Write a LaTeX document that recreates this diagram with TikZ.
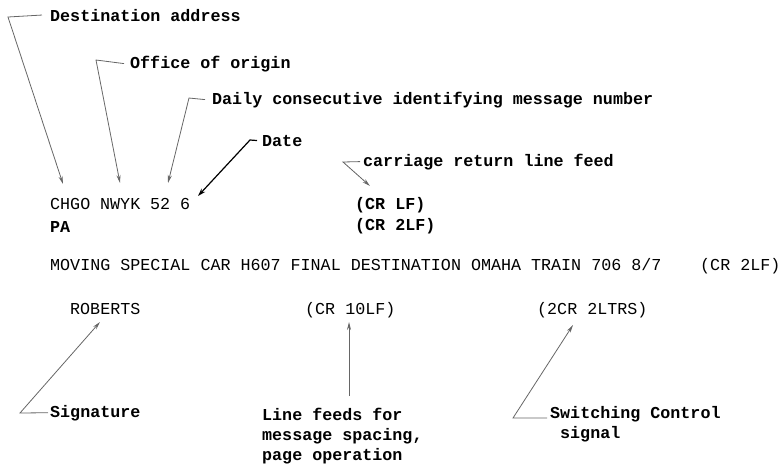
\documentclass[tikz,border=0pt]{standalone}
\usepackage{fontspec}
\setmonofont{Liberation Mono}
\usetikzlibrary{arrows.meta}
\begin{document}
\begin{tikzpicture}[x=1pt,y=-1pt,
  lbl/.style={inner sep=0pt,anchor=base west,font=\ttfamily\bfseries\fontsize{16.7}{20}\selectfont},
  msg/.style={inner sep=0pt,anchor=base west,font=\ttfamily\fontsize{16.7}{20}\selectfont},
  lead/.style={draw=black!60,line width=0.8pt,-{Stealth[length=8pt,width=4pt]}},
  leadb/.style={draw=black,line width=1.2pt,-{Stealth[length=8pt,width=5pt]}}]
\useasboundingbox (0,0) rectangle (781,464);
% labels
\node[lbl] (dest) at (50,21) {Destination address};
\node[lbl] (office) at (130,68) {Office of origin};
\node[lbl] (daily) at (212,104) {Daily consecutive identifying message number};
\node[lbl] (date) at (262,146) {Date};
\node[lbl] (crlftxt) at (363,166) {carriage return line feed};
% message
\node[msg] (chgo) at (50,209) {CHGO};
\node[msg] (nwyk) at (100,209) {NWYK};
\node[msg] (num) at (150,209) {52};
\node[msg] (day) at (180,209) {6};
\node[lbl] (pa) at (50,232) {PA};
\node[lbl] (crlf) at (355,209) {(CR LF)};
\node[lbl] (cr2lf) at (355,230) {(CR 2LF)};
\node[msg] (moving) at (50,270) {MOVING SPECIAL CAR H607 FINAL DESTINATION OMAHA TRAIN 706 8/7};
\node[msg] (cr2lfb) at (700,270) {(CR 2LF)};
\node[msg] (roberts) at (70,314) {ROBERTS};
\node[msg] (cr10) at (305,314) {(CR 10LF)};
\node[msg] (cr2ltrs) at (537,314) {(2CR 2LTRS)};
% bottom labels
\node[lbl] (sig) at (50,417) {Signature};
\node[lbl,align=left] (lf) at (262,460) {Line feeds for\\message spacing,\\page operation};
\node[lbl,align=left] (sw) at (550,438) {Switching Control\\\hspace*{10pt}signal};
% leader corners and tips
\coordinate (c1) at (8,17);   \coordinate (t1) at (63,184);
\coordinate (c2) at (96,60);  \coordinate (t2) at (120,183);
\coordinate (c3) at (189,98); \coordinate (t3) at (168,183);
\coordinate (c4) at (250,140);\coordinate (t4) at (198,196);
\coordinate (c5) at (343,162);\coordinate (t5) at (370,186);
\coordinate (c6) at (20,413); \coordinate (t6) at (100,322);
\coordinate (s7) at (349,396);\coordinate (t7) at (349,322);
\coordinate (c8) at (513,418);\coordinate (h8) at (547,418); \coordinate (t8) at (573,325);
\draw[lead] ([xshift=-8pt]dest.west) -- (c1) -- (t1);
\draw[lead] ([xshift=-6pt]office.west) -- (c2) -- (t2);
\draw[lead] ([xshift=-7pt]daily.west) -- (c3) -- (t3);
\draw[leadb] ([xshift=-5pt]date.west) -- (c4) -- (t4);
\draw[lead] ([xshift=-3pt]crlftxt.west) -- (c5) -- (t5);
\draw[lead] ([xshift=-2pt]sig.west) -- (c6) -- (t6);
\draw[lead] (s7) -- (t7);
\draw[lead] (h8) -- (c8) -- (t8);
\end{tikzpicture}
\end{document}
